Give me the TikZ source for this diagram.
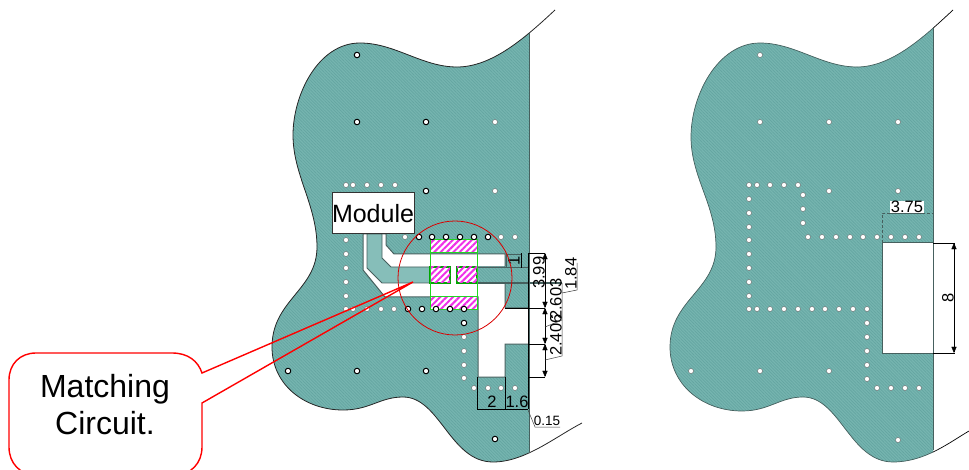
\documentclass[tikz,border=0pt]{standalone}
\usepackage{fontspec}
\setmainfont{Liberation Sans}
\usetikzlibrary{arrows,patterns.meta}
\definecolor{boardteal}{HTML}{76B5B0}
\definecolor{hatchteal}{HTML}{64A5A1}
\definecolor{edgegray}{HTML}{46605E}
\definecolor{padgreen}{HTML}{22D422}
\definecolor{padmagenta}{HTML}{F030E8}
\newcommand{\leftoutline}{(555,10) .. controls (525,38) and (492,67) .. (457,67) .. controls (422,67) and (395,43) .. (360,43) .. controls (318,43) and (293,95) .. (293,135) .. controls (293,175) and (317,205) .. (317,247) .. controls (317,290) and (272,300) .. (272,347) .. controls (272,385) and (305,410) .. (343,410) .. controls (370,410) and (380,397) .. (403,397) .. controls (440,397) and (450,462) .. (493,462) .. controls (525,462) and (555,437) .. (582,423)}
\newcommand{\rightoutline}{(953,10) .. controls (925,36) and (892,67) .. (857,67) .. controls (822,67) and (795,43) .. (760,43) .. controls (718,43) and (691,95) .. (691,137) .. controls (691,177) and (716,205) .. (716,247) .. controls (716,290) and (670,300) .. (670,347) .. controls (670,385) and (703,411) .. (742,411) .. controls (769,411) and (780,397) .. (803,397) .. controls (840,397) and (850,462) .. (893,462) .. controls (925,462) and (950,442) .. (969,431)}
\tikzset{
	board/.style={fill=boardteal,postaction={pattern={Lines[angle=135,distance=2.2pt,line width=.7pt]},pattern color=hatchteal}},
	via/.style={circle,draw=black!60,fill=white,line width=.4pt,inner sep=0,minimum size=5pt},
	viadark/.style={circle,draw=black,fill=white,line width=1pt,inner sep=0,minimum size=5.5pt},
	padhatch/.style={fill=white,postaction={pattern={Lines[angle=45,distance=4.5pt,line width=2pt]},pattern color=padmagenta}},
	dimtext/.style={font=\fontsize{16.5}{16.5}\selectfont,inner sep=0},
	dimline/.style={black,line width=.4pt},
	bolddim/.style={black,line width=.8pt},
	leader/.style={black!75,line width=.5pt},
}
\begin{document}
\begin{tikzpicture}[>=triangle 45,x=1pt,y=-1pt]
	\useasboundingbox (0,0) rectangle (969,470);
	\clip (0,0) rectangle (969,470);
	% left board
	\begin{scope}
		\clip (0,0) rectangle (529,470);
		\path[board] \leftoutline -- cycle;
	\end{scope}
	\draw[black!85,line width=.8pt] \leftoutline;
	\draw[edgegray,line width=.6pt] (529,33) -- (529,453);
	% clearance round the feed
	\draw[edgegray,fill=white,line width=1pt] (363,234) -- (386,234) -- (386,245) -- (394,254) -- (505,254) -- (505,267) -- (478,267) -- (478,283) -- (505,283) -- (505,308) -- (529,308) -- (529,344) -- (505,344) -- (505,377) -- (478,377) -- (478,297) -- (385,297) -- (363,270) -- cycle;
	\draw[edgegray,fill=boardteal!88!white,line width=.8pt] (367,234) -- (382,234) -- (382,258) -- (391,267) -- (430,267) -- (430,283) -- (382,283) -- (367,268) -- cycle;
	\path[board] (478,267) rectangle (529,283);
	\path[board] (506,254) rectangle (521,267);
	\draw[edgegray,line width=.8pt] (478,267) -- (529,267);
	\draw[edgegray,line width=1.2pt] (478,283) -- (562,283);
	% matching pads
	\path[padhatch] (430,240) rectangle (477,253);
	\path[padhatch] (430,297) rectangle (477,310);
	\draw[padhatch,draw=green!65!black,line width=1.2pt] (430,267) rectangle (450,283);
	\draw[padhatch,draw=green!65!black,line width=1.2pt] (457,267) rectangle (477,283);
	\draw[padgreen,line width=1pt] (430,240) rectangle (477,310);
	\draw[padgreen,line width=1pt] (430,253) -- (477,253) (430,297) -- (477,297);
	% vias, left board
	\foreach \x/\y in {346/185,353/185,367/185,381/185,395/185,495/191,495/122,346/240,346/254,346/268,346/282,346/296,346/309,353/309,367/309,381/309,394/309,405/237,501/237,515/237,464/337,464/351,464/365,464/378,474/388,488/388,501/388,515/388}
		\node[via] (v\x-\y) at (\x,\y) {};
	\foreach \x/\y in {357/55,357/122,426/122,426/191,288/371,357/371,426/371,495/439,419/237,432/237,446/237,460/237,474/237,488/237,408/309,422/309,436/309,450/309,464/309,464/323}
		\node[viadark] (w\x-\y) at (\x,\y) {};
	% dimensions, left board
	\draw[dimline] (528,253) -- (545,253);
	\draw[bolddim] (505,308) -- (545,308);
	\draw[bolddim] (528,253) -- (528,377);
	\draw[bolddim] (528,344) -- (545,344);
	\draw[bolddim] (528,377) -- (545,377);
	\draw[dimline,<->] (545,253) -- (545,308);
	\draw[dimline,<->] (545,308) -- (545,344);
	\draw[dimline,<->] (545,344) -- (545,377);
	\draw[edgegray,line width=.8pt] (506,254) rectangle (521,267);
	\draw[bolddim] (521,253) -- (521,268);
	\node[dimtext,rotate=90] (dimone) at (514,260.5) {1};
	\node[dimtext,rotate=90,anchor=south west] (dimdepth) at (545,289) {3.99};
	\node[dimtext,rotate=90,anchor=south west] (dimgapa) at (562,320) {2.603};
	\node[dimtext,rotate=90,anchor=south west] (dimgapb) at (562,356) {2.406};
	\node[dimtext,rotate=90,anchor=south west] (dimwide) at (577,290) {1.84};
	\draw[leader] (562,283) -- (562,356) -- (545,360);
	\draw[leader] (562,320) -- (545,327);
	\draw[leader] (577,263) -- (577,290) -- (562,293);
	\draw[bolddim] (477,377) -- (477,409);
	\draw[bolddim] (505,377) -- (505,409);
	\draw[bolddim] (528,344) -- (528,409);
	\draw[bolddim] (477,409) -- (528,409);
	\node[dimtext] (dimslot) at (492,402) {2};
	\node[dimtext] (dimstub) at (517,402) {1.6};
	\node[dimtext,font=\fontsize{13.5}{13.5}\selectfont] (dimedge) at (547,421) {0.15};
	\draw[leader] (528,410) -- (535,427) -- (560,427);
	% circle and module
	\draw[red!85!black,line width=.8pt] (455,278) circle (57);
	\node[draw=black!80,fill=white,line width=1pt,inner sep=0,minimum width=82pt,minimum height=41pt,font=\fontsize{25}{25}\selectfont] (module) at (373,213.5) {Module};
	% callout
	\draw[red,line width=1.4pt] (413,282) -- (202,373) .. controls (198,361) and (188,353) .. (172,353) -- (36,353) .. controls (20,353) and (9,364) .. (9,380) -- (9,447) .. controls (9,463) and (20,475) .. (36,475) -- (175,475) .. controls (191,475) and (202,463) .. (202,447) -- (202,403) -- cycle;
	\node[align=center,inner sep=0,font=\fontsize{32}{37}\selectfont] (callouttext) at (105,404.5) {Matching\\Circuit.};
	% right board
	\begin{scope}
		\clip (0,0) rectangle (933,470);
		\path[board] \rightoutline -- cycle;
		\draw[edgegray,line width=.7pt] \rightoutline;
	\end{scope}
	\begin{scope}
		\clip (933,0) rectangle (969,470);
		\draw[black,line width=.7pt] \rightoutline;
	\end{scope}
	\draw[edgegray,line width=.7pt] (933,28) -- (933,450);
	\draw[edgegray,fill=white,line width=1pt] (882,243) rectangle (933,353);
	\draw[edgegray,densely dashed,line width=.7pt] (882,243) -- (882,213) -- (933,213);
	\foreach \x in {749,757,770,784,798}
		\node[via] (ta\x) at (\x,185) {};
	\foreach \y in {199,213,227,240,254,268,282,296}
		\node[via] (tb\y) at (749,\y) {};
	\foreach \y in {195,209,223}
		\node[via] (tc\y) at (803,\y) {};
	\foreach \x in {808,822,836,850,863,877,891,905,919}
		\node[via] (td\x) at (\x,237) {};
	\foreach \x in {749,757,770,784,798,812,825,839,853,867}
		\node[via] (te\x) at (\x,309) {};
	\foreach \y in {323,337,351,365,379}
		\node[via] (tf\y) at (867,\y) {};
	\foreach \x in {877,891,905,919}
		\node[via] (tg\x) at (\x,388) {};
	\foreach \x/\y in {760/55,760/122,829/122,898/122,829/191,898/191,691/371,760/371,829/371,898/440}
		\node[via] (th\x-\y) at (\x,\y) {};
	% dimensions, right board
	\node[dimtext,fill=white,inner xsep=1pt] (dimback) at (907,207) {3.75};
	\draw[edgegray,line width=.8pt] (890,213) -- (924,213);
	\draw[dimline] (933,243) -- (955,243);
	\draw[dimline] (933,353) -- (955,353);
	\draw[dimline,<->] (954,243) -- (954,353);
	\node[dimtext,rotate=90] (dimeight) at (948,298) {8};
\end{tikzpicture}
\end{document}
